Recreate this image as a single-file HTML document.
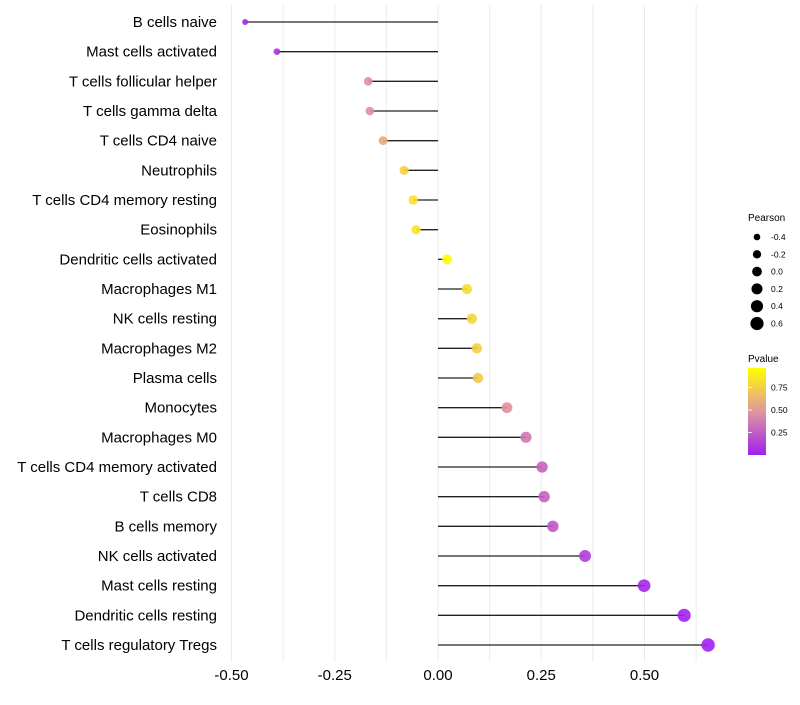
<!DOCTYPE html>
<html><head><meta charset="utf-8">
<style>
html,body{margin:0;padding:0;background:#fff;}
svg text{font-family:"Liberation Sans",sans-serif;}
</style></head>
<body>
<svg id="chart" width="800" height="700" xmlns="http://www.w3.org/2000/svg">
<defs>
<linearGradient id="pgrad" x1="0" y1="1" x2="0" y2="0">
<stop offset="0" stop-color="#a020f0"/>
<stop offset="0.5" stop-color="#e0969e"/>
<stop offset="1" stop-color="#ffff00"/>
</linearGradient>
</defs>
<g id="grid"></g>
<g id="marks"></g>
<g id="ylabels"></g>
<g id="xlabels"></g>
<g>
<text x="748" y="221" font-size="10" fill="#000">Pearson</text>
<g id="sizeleg"></g>
</g>
<g>
<text x="748" y="362" font-size="10" fill="#000">Pvalue</text>
<rect x="748" y="368" width="18" height="87" fill="url(#pgrad)"/>
<g id="colleg"></g>
</g>
</svg>
<script>
const categories = ["B cells naive","Mast cells activated","T cells follicular helper","T cells gamma delta","T cells CD4 naive","Neutrophils","T cells CD4 memory resting","Eosinophils","Dendritic cells activated","Macrophages M1","NK cells resting","Macrophages M2","Plasma cells","Monocytes","Macrophages M0","T cells CD4 memory activated","T cells CD8","B cells memory","NK cells activated","Mast cells resting","Dendritic cells resting","T cells regulatory  Tregs"];
const pearson = [-0.467,-0.39,-0.169,-0.165,-0.133,-0.082,-0.06,-0.053,0.022,0.070,0.082,0.094,0.097,0.167,0.213,0.252,0.257,0.278,0.356,0.499,0.596,0.654];
const pvalue = [0.03,0.08,0.45,0.45,0.58,0.75,0.82,0.84,0.95,0.8,0.78,0.74,0.72,0.45,0.35,0.27,0.26,0.22,0.12,0.03,0.01,0.005];
const xTicks = [-0.5,-0.25,0,0.25,0.5];
const xTickLabels = ["-0.50","-0.25","0.00","0.25","0.50"];
const sizeLegendVals = [-0.4,-0.2,0.0,0.2,0.4,0.6];
const colorLegendVals = [0.25,0.5,0.75];

const NS="http://www.w3.org/2000/svg";
const x = v => 438 + v*413;
const y = i => 22 + i*(623/21);
const rad = v => 1.1*Math.sqrt(Math.max(4, 19.8 + 27*v));
function col(p){
  const t=Math.max(0,Math.min(1,p/0.96));
  let a,b,u;
  const c0=[160,32,240],c1=[228,150,150],c2=[255,255,0];
  if(t<0.5){a=c0;b=c1;u=t/0.5;}else{a=c1;b=c2;u=(t-0.5)/0.5;}
  return `rgb(${a.map((c,k)=>Math.round(c+(b[k]-c)*u)).join(',')})`;
}
function mk(tag,attrs,parent){const e=document.createElementNS(NS,tag);for(const k in attrs)e.setAttribute(k,attrs[k]);parent.appendChild(e);return e;}
const grid=document.getElementById('grid'),marks=document.getElementById('marks'),yl=document.getElementById('ylabels'),xl=document.getElementById('xlabels');
for(let v=-0.5;v<=0.626;v+=0.125){
  const g=mk('line',{x1:x(v),x2:x(v),y1:5,y2:662,stroke:'#ebebeb','stroke-width':1},grid);
  
  
}
xTicks.forEach((v,i)=>{
  const t=mk('text',{x:x(v),y:680,'font-size':15,'text-anchor':'middle',fill:'#000'},xl);
  t.textContent=xTickLabels[i];
  
  
});
categories.forEach((c,i)=>{
  const t=mk('text',{x:217,y:y(i)+5,'font-size':15,'text-anchor':'end',fill:'#000'},yl);
  t.textContent=c;
  
  
  const l=mk('line',{x1:x(0),x2:x(pearson[i]),y1:y(i),y2:y(i),stroke:'#222','stroke-width':1.3},marks);
  
  
  const d=mk('circle',{cx:x(pearson[i]),cy:y(i),r:rad(pearson[i]),fill:col(pvalue[i]),'fill-opacity':0.9},marks);
  
  
});
const sl=document.getElementById('sizeleg');
sizeLegendVals.forEach((v,i)=>{
  const cy=237+i*17.3;
  const c=mk('circle',{cx:757,cy:cy,r:rad(v)},sl);
  
  
  const t=mk('text',{x:771,y:cy+3,'font-size':8.5,fill:'#000'},sl);
  t.textContent=v.toFixed(1);
  
  
});
const cl=document.getElementById('colleg');
colorLegendVals.forEach(v=>{
  const cy=455-v*90;
  const l=mk('line',{x1:748,x2:752,y1:cy,y2:cy,stroke:'#fff','stroke-width':0.8},cl);
  
  
  const t=mk('text',{x:771,y:cy+3,'font-size':8.5,fill:'#000'},cl);
  t.textContent=v.toFixed(2);
  
  
});
</script>
</body></html>
